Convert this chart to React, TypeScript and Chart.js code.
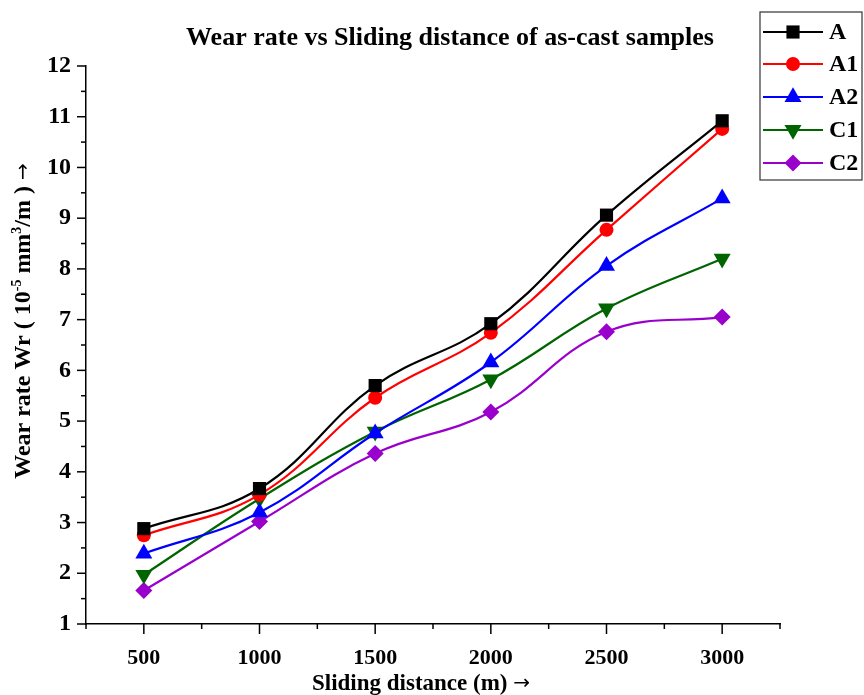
import React, { useEffect, useRef } from "react";
import { Chart, registerables } from "chart.js";

Chart.register(...registerables);

const distances = [500, 1000, 1500, 2000, 2500, 3000];
const seriesA = [2.88, 3.67, 5.7, 6.92, 9.06, 10.92];
const seriesA1 = [2.75, 3.55, 5.46, 6.74, 8.77, 10.76];
const seriesA2 = [2.39, 3.2, 4.76, 6.16, 8.06, 9.39];
const seriesC1 = [1.97, 3.47, 4.79, 5.82, 7.22, 8.2];
const seriesC2 = [1.66, 3.02, 4.36, 5.18, 6.76, 7.05];

const seriesNames = ["A", "A1", "A2", "C1", "C2"];
const seriesColors = ["#000000", "#ff0000", "#0000ff", "#006400", "#9900cc"];
const seriesStyles = ["rect", "circle", "triangle", "triangle", "rectRot"];
const seriesRotations = [0, 0, 0, 180, 0];
const seriesRadius = [9.3, 7, 9.8, 9.8, 8.5];

const xTickValues = [500, 1000, 1500, 2000, 2500, 3000];
const yTickValues = [1, 2, 3, 4, 5, 6, 7, 8, 9, 10, 11, 12];

const titleText = "Wear rate vs Sliding distance of as-cast samples";
const xTitleText = "Sliding distance (m) ";
const ARROW = "\u2192";

const SERIF = '"Liberation Serif", "Times New Roman", serif';
const ARROW_FONT = '"DejaVu Sans", sans-serif';

function drawMarker(ctx: CanvasRenderingContext2D, style: string, rot: number, x: number, y: number, r: number, color: string) {
  ctx.save();
  ctx.fillStyle = color;
  ctx.beginPath();
  if (style === "rect") {
    const s = Math.SQRT1_2 * r;
    ctx.rect(x - s, y - s, 2 * s, 2 * s);
  } else if (style === "circle") {
    ctx.arc(x, y, r, 0, Math.PI * 2);
  } else if (style === "triangle") {
    let rad = (rot * Math.PI) / 180;
    for (let i = 0; i < 3; i++) {
      const px = x + Math.sin(rad) * r;
      const py = y - Math.cos(rad) * r;
      if (i === 0) ctx.moveTo(px, py);
      else ctx.lineTo(px, py);
      rad += (2 * Math.PI) / 3;
    }
    ctx.closePath();
  } else if (style === "rectRot") {
    ctx.moveTo(x - r, y);
    ctx.lineTo(x, y - r);
    ctx.lineTo(x + r, y);
    ctx.lineTo(x, y + r);
    ctx.closePath();
  }
  ctx.fill();
  ctx.restore();
}

// draws a run of [text, font, yOffset] pieces centered at 0 along the current x axis
function drawRun(ctx: CanvasRenderingContext2D, parts: [string, string, number][], centerX: number, baseY: number) {
  let total = 0;
  for (const [t, f] of parts) {
    ctx.font = f;
    total += ctx.measureText(t).width;
  }
  let cx = centerX - total / 2;
  ctx.textAlign = "left";
  ctx.textBaseline = "alphabetic";
  for (const [t, f, dy] of parts) {
    ctx.font = f;
    ctx.fillText(t, cx, baseY + dy);
    cx += ctx.measureText(t).width;
  }
}

const decorPlugin = {
  id: "decor",
  afterDraw(chart: any) {
    const ctx: CanvasRenderingContext2D = chart.ctx;
    const area = chart.chartArea;
    const xs = chart.scales.x;
    const ys = chart.scales.y;
    ctx.save();
    // ticks
    ctx.strokeStyle = "#000";
    ctx.lineWidth = 1.5;
    for (let v = 1; v <= 12.001; v += 0.5) {
      const py = ys.getPixelForValue(v);
      const major = Math.abs(v - Math.round(v)) < 1e-6;
      const len = major ? 9 : 5;
      ctx.beginPath();
      ctx.moveTo(area.left - len, py);
      ctx.lineTo(area.left, py);
      ctx.stroke();
    }
    for (let v = 250; v <= 3250.001; v += 250) {
      const px = xs.getPixelForValue(v);
      const major = v % 500 === 0;
      const len = major ? 10 : 5;
      ctx.beginPath();
      ctx.moveTo(px, area.bottom);
      ctx.lineTo(px, area.bottom + len);
      ctx.stroke();
    }

    // title
    ctx.fillStyle = "#000";
    ctx.font = `bold 26px ${SERIF}`;
    ctx.textAlign = "center";
    ctx.textBaseline = "middle";
    ctx.fillText(titleText, 450, 38);

    // x title
    drawRun(
      ctx,
      [
        [xTitleText, `bold 23px ${SERIF}`, 0],
        [ARROW, `20px ${ARROW_FONT}`, -1],
      ],
      (area.left + area.right) / 2 - 12,
      690
    );

    // y title with superscripts
    ctx.save();
    ctx.translate(30, 321);
    ctx.rotate(-Math.PI / 2);
    const big = `bold 24px ${SERIF}`;
    const small = `bold 14px ${SERIF}`;
    drawRun(
      ctx,
      [
        ["Wear rate Wr ( 10", big, 0],
        ["-5", small, -9],
        [" mm", big, 0],
        ["3", small, -9],
        ["/m ) ", big, 0],
        [ARROW, `20px ${ARROW_FONT}`, -1],
      ],
      0,
      0
    );
    ctx.restore();

    // legend
    const bx = 760, by = 12, bw = 102, bh = 168;
    ctx.fillStyle = "#fff";
    ctx.fillRect(bx, by, bw, bh);
    ctx.strokeStyle = "#333";
    ctx.lineWidth = 1.2;
    ctx.strokeRect(bx, by, bw, bh);
    const rowY = [32, 64, 97, 130, 163];
    for (let i = 0; i < seriesNames.length; i++) {
      const y = rowY[i];
      ctx.strokeStyle = seriesColors[i];
      ctx.lineWidth = 2.2;
      ctx.beginPath();
      ctx.moveTo(763, y);
      ctx.lineTo(823, y);
      ctx.stroke();
      drawMarker(ctx, seriesStyles[i], seriesRotations[i], 793, y, seriesRadius[i], seriesColors[i]);
      ctx.fillStyle = "#000";
      ctx.font = `bold 24px ${SERIF}`;
      ctx.textAlign = "left";
      ctx.textBaseline = "middle";
      ctx.fillText(seriesNames[i], 829, y + 1);
    }
    ctx.restore();
  },
};

export default function App() {
  const canvasRef = useRef<HTMLCanvasElement | null>(null);

  useEffect(() => {
    const canvas = canvasRef.current;
    if (!canvas) return;
    const allSeries = [seriesA, seriesA1, seriesA2, seriesC1, seriesC2];
    const chart = new Chart(canvas, {
      type: "line",
      data: {
        datasets: allSeries.map((vals, i) => ({
          label: seriesNames[i],
          data: distances.map((d, j) => ({ x: d, y: vals[j] })),
          borderColor: seriesColors[i],
          backgroundColor: seriesColors[i],
          borderWidth: 2.2,
          pointStyle: seriesStyles[i] as any,
          rotation: seriesRotations[i],
          pointRadius: seriesRadius[i],
          pointBorderWidth: 0,
          pointHoverRadius: seriesRadius[i],
          tension: 0.4,
          fill: false,
        })),
      },
      options: {
        responsive: false,
        animation: false,
        devicePixelRatio: 1,
        layout: { padding: { left: 0, top: 66, right: 84, bottom: 0 } },
        plugins: {
          legend: { display: false },
          title: { display: false },
          tooltip: { enabled: false },
        },
        scales: {
          x: {
            type: "linear",
            min: 250,
            max: 3250,
            grid: { display: false, drawTicks: false },
            border: { display: true, color: "#000", width: 1.5 },
            afterBuildTicks: (scale: any) => {
              scale.ticks = xTickValues.map((v) => ({ value: v }));
            },
            afterFit: (scale: any) => {
              scale.height = 71;
            },
            ticks: {
              color: "#000",
              padding: 21,
              maxRotation: 0,
              autoSkip: false,
              font: { family: SERIF, size: 22, weight: "bold" },
              callback: (v: any) => String(v),
            },
          },
          y: {
            type: "linear",
            min: 1,
            max: 12,
            grid: { display: false, drawTicks: false },
            border: { display: true, color: "#000", width: 1.5 },
            afterBuildTicks: (scale: any) => {
              scale.ticks = yTickValues.map((v) => ({ value: v }));
            },
            afterFit: (scale: any) => {
              scale.width = 86;
            },
            ticks: {
              color: "#000",
              padding: 15,
              autoSkip: false,
              font: { family: SERIF, size: 24, weight: "bold" },
              callback: (v: any) => String(v),
            },
          },
        },
      },
      plugins: [decorPlugin],
    });
    return () => chart.destroy();
  }, []);

  return (
    <div style={{ position: "absolute", left: 0, top: 0, width: 864, height: 695, background: "#fff" }}>
      <canvas ref={canvasRef} width={864} height={695} style={{ width: 864, height: 695, display: "block" }} />
    </div>
  );
}
